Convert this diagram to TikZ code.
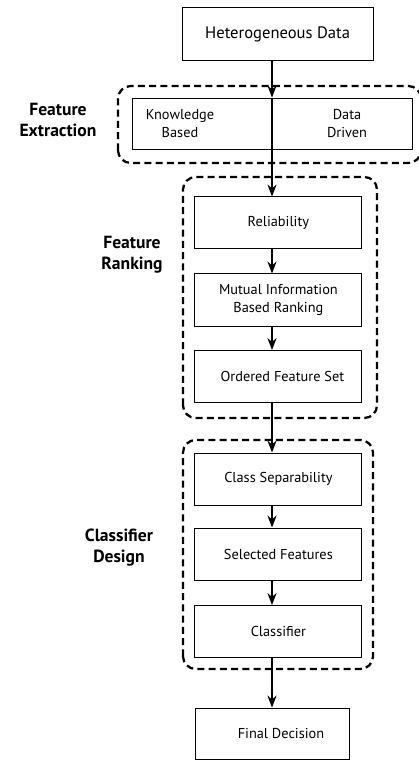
\documentclass[tikz,border=0pt]{standalone}
\usepackage{fontspec}
\setmainfont{PT Sans}
\usetikzlibrary{arrows.meta,positioning}

\begin{document}
\begin{tikzpicture}[>={Stealth[length=8.5pt,width=6.5pt]},font=\fontsize{10.2}{12.3}\selectfont]
\tikzstyle{b}=[draw,line width=0.7pt,minimum width=4.175cm,minimum height=1.3cm,align=center,inner sep=0pt]
\tikzstyle{grp}=[line width=1.6pt,dash pattern=on 5pt off 3pt,rounded corners=9pt]
\tikzstyle{lbl}=[font=\fontsize{12.5}{15}\selectfont\bfseries,align=center]
\useasboundingbox (0,0) rectangle (10.45,19);
\coordinate (spine) at (6.8,0);
% groups
\draw[grp] (2.95,14.925) rectangle (10.525,16.85);
\draw[grp] (4.575,8.55) rectangle (9.425,14.575);
\draw[grp] (4.575,2.275) rectangle (9.325,8.0);
\node[lbl] (lfe) at (1.45,16.0) {Feature\\Extraction};
\node[lbl] (lfr) at (3.3,12.625) {Feature\\Ranking};
\node[lbl] (lcd) at (2.975,5.3) {Classifier\\Design};
% boxes
\node[b,minimum width=4.775cm,minimum height=1.325cm,font=\fontsize{11.8}{14}\selectfont] (hd) at (6.94,18.14) {Heterogeneous Data};
\node[b,minimum width=7cm,minimum height=1.275cm] (fe) at (6.8,15.91) {};
\node[align=center] (kb) at (4.5,15.91) {Knowledge\\Based};
\node[align=center] (dd) at (8.675,15.91) {Data\\Driven};
\node[b] (rel) at (6.96,13.425) {Reliability};
\node[b] (mi) at (6.96,11.5) {Mutual Information\\Based Ranking};
\node[b] (ofs) at (6.96,9.5875) {\hspace{0.2cm}Ordered Feature Set};
\node[b] (cs) at (6.96,7.025) {Class Separability};
\node[b] (sf) at (6.96,5.15) {Selected Features};
\node[b] (cl) at (6.96,3.2125) {Classifier};
\node[b,minimum width=3.85cm,minimum height=1.275cm] (fd) at (6.8,0.6625) {\hspace{0.45cm}Final Decision};
% arrows
\draw[->,line width=0.8pt] (spine |- hd.south) -- (spine |- fe.north);
\draw[line width=0.8pt] (fe.north) -- (fe.south);
\draw[->,line width=0.8pt] (fe.south) -- (spine |- rel.north);
\draw[->,line width=0.8pt] (spine |- rel.south) -- (spine |- mi.north);
\draw[->,line width=0.8pt] (spine |- mi.south) -- (spine |- ofs.north);
\draw[->,line width=0.8pt] (spine |- ofs.south) -- (spine |- cs.north);
\draw[->,line width=0.8pt] (spine |- cs.south) -- (spine |- sf.north);
\draw[->,line width=0.8pt] (spine |- sf.south) -- (spine |- cl.north);
\draw[->,line width=0.8pt] (spine |- cl.south) -- (fd.north);
\end{tikzpicture}
\end{document}
